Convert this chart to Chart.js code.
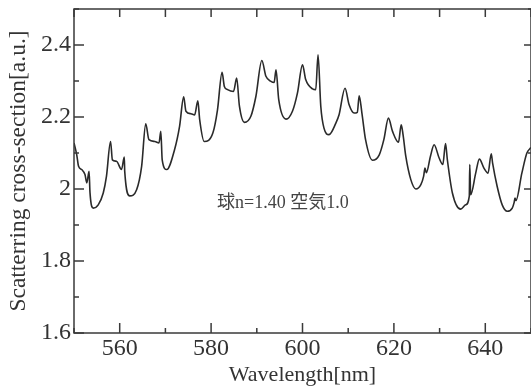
<!DOCTYPE html>
<html>
<head>
<meta charset="utf-8">
<script src="https://cdn.jsdelivr.net/npm/chart.js@4/dist/chart.umd.min.js"></script>
<style>
html,body{margin:0;padding:0;background:#fff;}
#wrap{width:531px;height:388px;}
</style>
</head>
<body>
<div id="wrap"><canvas id="c" width="531" height="388"></canvas></div>
<script>
const wavelengths = [550.0,550.6,551.0,551.7,552.4,552.8,553.3,553.5,554.2,555.3,556.4,557.1,558.0,558.4,559.3,560.4,561.0,561.1,562.2,563.7,564.8,565.7,566.4,567.7,568.6,569.0,569.3,570.3,572.0,573.1,574.0,574.5,575.6,576.4,577.1,577.5,578.5,580.4,581.4,582.4,582.9,583.6,584.9,585.6,586.2,587.3,588.7,589.8,591.1,592.0,593.1,593.8,594.2,594.8,596.4,597.8,598.9,600.0,600.7,602.2,602.9,603.4,604.0,604.7,605.8,607.3,608.0,609.3,610.2,611.3,612.0,612.4,613.0,613.8,615.3,616.8,617.8,618.8,619.7,621.0,621.6,622.0,622.6,623.7,624.8,625.9,626.5,626.8,627.1,628.0,628.8,629.9,630.7,631.3,631.7,632.8,634.6,635.7,636.5,636.6,636.8,637.9,638.7,639.7,640.6,641.3,641.6,642.6,643.7,644.8,645.9,646.3,646.5,646.7,648.0,649.1,650.0];
const crossSection = [2.128,2.095,2.063,2.054,2.040,2.017,2.049,1.990,1.947,1.956,1.989,2.035,2.132,2.081,2.077,2.054,2.089,2.049,1.981,1.998,2.063,2.181,2.137,2.132,2.128,2.160,2.081,2.054,2.109,2.174,2.256,2.216,2.209,2.206,2.245,2.193,2.132,2.156,2.220,2.324,2.285,2.276,2.271,2.308,2.230,2.185,2.202,2.257,2.357,2.313,2.299,2.296,2.331,2.248,2.194,2.216,2.267,2.345,2.304,2.278,2.276,2.373,2.230,2.169,2.151,2.183,2.206,2.280,2.234,2.211,2.213,2.259,2.211,2.137,2.080,2.095,2.137,2.197,2.160,2.130,2.178,2.151,2.091,2.026,2.000,2.012,2.035,2.058,2.045,2.091,2.123,2.086,2.068,2.126,2.081,1.989,1.944,1.956,1.980,2.068,1.984,2.044,2.083,2.058,2.044,2.098,2.072,2.007,1.956,1.938,1.947,1.962,1.975,1.968,2.044,2.100,2.115];
const xTicks = [560,580,600,620,640];
const yTicks = [1.6,1.8,2.0,2.2,2.4];
const xMinorTicks = [550,570,590,610,630,650];
const yMinorTicks = [1.7,1.9,2.1,2.3,2.5];
const xRange = [550,650];
const yRange = [1.6,2.5];
const xTitle = 'Wavelength[nm]';
const yTitle = 'Scatterring cross-section[a.u.]';
const note = '球n=1.40 空気1.0';

const axisColor = '#3a3a3a';
const serif = "'Liberation Serif','Noto Sans CJK JP',serif";

const frame = {
  id: 'frame',
  afterDatasetsDraw(chart) {
    const {ctx, chartArea: a, scales: {x, y}} = chart;
    ctx.save();
    ctx.strokeStyle = axisColor;
    ctx.lineWidth = 1.5;
    ctx.strokeRect(a.left, a.top, a.right - a.left, a.bottom - a.top);
    ctx.beginPath();
    const all = (arr, f) => arr.forEach(f);
    all(xTicks, v => { const px = x.getPixelForValue(v);
      ctx.moveTo(px, a.bottom); ctx.lineTo(px, a.bottom - 10);
      ctx.moveTo(px, a.top); ctx.lineTo(px, a.top + 8); });
    all(xMinorTicks, v => { const px = x.getPixelForValue(v);
      ctx.moveTo(px, a.bottom); ctx.lineTo(px, a.bottom - 5);
      ctx.moveTo(px, a.top); ctx.lineTo(px, a.top + 8); });
    all(yTicks, v => { const py = y.getPixelForValue(v);
      ctx.moveTo(a.left, py); ctx.lineTo(a.left + 10, py);
      ctx.moveTo(a.right, py); ctx.lineTo(a.right - 7, py); });
    all(yMinorTicks, v => { const py = y.getPixelForValue(v);
      ctx.moveTo(a.left, py); ctx.lineTo(a.left + 5, py);
      ctx.moveTo(a.right, py); ctx.lineTo(a.right - 3, py); });
    ctx.stroke();
    ctx.fillStyle = '#444';
    ctx.font = "18px " + serif;
    ctx.textAlign = 'left';
    ctx.textBaseline = 'middle';
    ctx.fillText(note, x.getPixelForValue(581.3), y.getPixelForValue(1.96));
    ctx.restore();
  }
};

new Chart(document.getElementById('c'), {
  type: 'line',
  data: {
    datasets: [{
      data: wavelengths.map((w, i) => ({x: w, y: crossSection[i]})),
      borderColor: '#2a2a2a',
      borderWidth: 1.6,
      pointRadius: 0,
      cubicInterpolationMode: 'monotone',
      fill: false
    }]
  },
  options: {
    responsive: false,
    animation: false,
    events: [],
    layout: {padding: {top: 9, right: 0, left: 0, bottom: 0}},
    plugins: {legend: {display: false}, tooltip: {enabled: false}},
    scales: {
      x: {
        type: 'linear', min: xRange[0], max: xRange[1],
        afterBuildTicks: s => { s.ticks = xTicks.map(v => ({value: v})); },
        afterFit: s => { s.height = 55; s.paddingLeft = 0; s.paddingRight = 0; },
        grid: {display: false, drawTicks: false},
        border: {display: false},
        ticks: {color: '#333', font: {family: serif, size: 24}, padding: 1, maxRotation: 0, autoSkip: false},
        title: {display: true, text: xTitle, color: '#333', font: {family: serif, size: 22}, padding: {top: 0, bottom: 0}}
      },
      y: {
        type: 'linear', min: yRange[0], max: yRange[1],
        afterBuildTicks: s => { s.ticks = yTicks.map(v => ({value: v})); },
        afterFit: s => { s.width = 74; s.paddingTop = 0; s.paddingBottom = 0; },
        grid: {display: false, drawTicks: false},
        border: {display: false},
        ticks: {color: '#333', font: {family: serif, size: 24}, padding: 3, autoSkip: false,
          callback: v => String(+Number(v).toFixed(1))},
        title: {display: true, text: yTitle, color: '#333', font: {family: serif, size: 23.5}, padding: {top: 5, bottom: 0}}
      }
    }
  },
  plugins: [frame]
});
</script>
</body>
</html>
